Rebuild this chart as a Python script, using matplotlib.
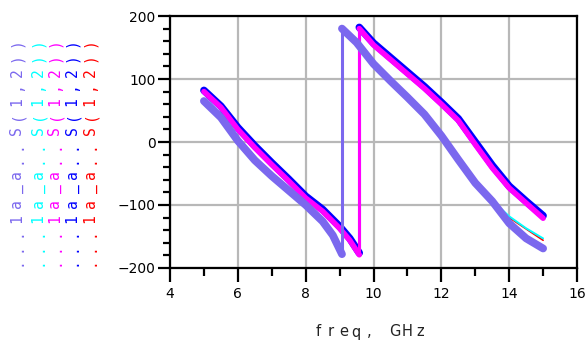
import matplotlib
matplotlib.use('Agg')
import matplotlib.pyplot as plt
from matplotlib.ticker import MultipleLocator

# frequency grid (GHz) for each piece of the traces
freq_b1 = [5.0, 5.5, 6.0, 6.5, 7.0, 7.5, 8.0, 8.5, 8.8, 9.07]
freq_b2 = [9.07, 9.5, 10.0, 10.5, 11.0, 11.5, 12.0, 12.5, 13.0, 13.5, 14.0, 14.5, 15.0]
freq_a1 = [5.0, 5.5, 6.0, 6.5, 7.0, 7.5, 8.0, 8.5, 9.0, 9.3, 9.58]
freq_a2 = [9.58, 10.0, 10.5, 11.0, 11.5, 12.0, 12.5, 13.0, 13.5, 14.0, 14.5, 15.0]

# phase of S(1,2) in degrees
purple_1 = [65, 39, 2, -29, -54, -77, -100, -126, -148, -178]
purple_2 = [180, 158, 124, 97, 71, 44, 10, -28, -65, -94, -129, -153, -169]
cyan_1 = [67, 41, 4, -27, -52, -75, -98, -123, -145, -175]
cyan_2 = [179, 157, 123, 96, 70, 43, 9, -28, -64, -93, -118, -137, -153]
red_1 = [67, 41, 4, -27, -52, -75, -98, -123, -145, -176]
red_2 = [179, 157, 123, 96, 70, 43, 9, -28, -64, -94, -120, -138, -156]
blue_1 = [82, 57, 23, -6, -33, -59, -86, -107, -134, -153, -176]
blue_2 = [182, 157, 134, 111, 88, 63, 37, 0, -37, -70, -94, -117]
magenta_1 = [80, 55, 20, -9, -36, -62, -89, -110, -137, -156, -179]
magenta_2 = [180, 154, 131, 108, 85, 60, 34, -4, -41, -73, -97, -121]

legend_text = '...1a_a..S(1,2))'
colors = ['#7B68EE', '#00FFFF', '#FF00FF', '#0000FF', '#FF0000']

fig = plt.figure(figsize=(5.87, 3.45), dpi=100)
ax = fig.add_axes([0.2896, 0.2232, 0.6934, 0.7304])

traces = [
    (freq_a1, blue_1, freq_a2, blue_2, '#0000FF', 5.4),
    (freq_a1, magenta_1, freq_a2, magenta_2, '#FF00FF', 4.0),
    (freq_b1, red_1, freq_b2, red_2, '#FF0000', 1.2),
    (freq_b1, cyan_1, freq_b2, cyan_2, '#00FFFF', 1.4),
    (freq_b1, purple_1, freq_b2, purple_2, '#7B68EE', 5.6),
]
for f1, p1, f2, p2, c, lw in traces:
    ax.plot(f1, p1, color=c, lw=lw, solid_capstyle='round', solid_joinstyle='round')
    ax.plot(f2, p2, color=c, lw=lw, solid_capstyle='round', solid_joinstyle='round')
    # thin jump where the phase wraps
    ax.plot([f1[-1], f2[0]], [p1[-1], p2[0]], color=c, lw=min(lw, 2.2))

ax.set_xlim(4, 16)
ax.set_ylim(-200, 200)
ax.xaxis.set_major_locator(MultipleLocator(2))
ax.xaxis.set_minor_locator(MultipleLocator(1))
ax.yaxis.set_major_locator(MultipleLocator(100))
ax.yaxis.set_minor_locator(MultipleLocator(20))
ax.grid(True, which='major', color='#b8b8b8', lw=1.6)
ax.set_axisbelow(True)
for s in ax.spines.values():
    s.set_linewidth(1.6)
ax.tick_params(axis='x', which='major', direction='out', length=10, width=1.6, labelsize=10, pad=3.5)
ax.tick_params(axis='x', which='minor', direction='out', length=6, width=1.6)
ax.tick_params(axis='y', which='major', direction='out', length=8.5, width=1.6, labelsize=10, pad=2)
ax.tick_params(axis='y', which='minor', direction='out', length=5, width=1.6)
ax.tick_params(top=False, right=False)

# x label, letter-spaced like the original
xlab = 'freq, GHz'
x0 = 318 / 587
for i, ch in enumerate(xlab):
    fig.text(x0 + i * 0.0217, 1 - 332 / 345, ch, ha='center', va='center', fontsize=10.5, color='#222222')

# vertical legend, one column per trace
col_x = [17, 38, 55, 72, 90]
for cx, c in zip(col_x, colors):
    for i, ch in enumerate(legend_text):
        y = 262 - i * 14.6
        fig.text(cx / 587, 1 - y / 345, ch, rotation=90, ha='center', va='center',
                 fontsize=10.5, color=c, family='DejaVu Sans Mono')

fig.savefig('out.png', dpi=100)
